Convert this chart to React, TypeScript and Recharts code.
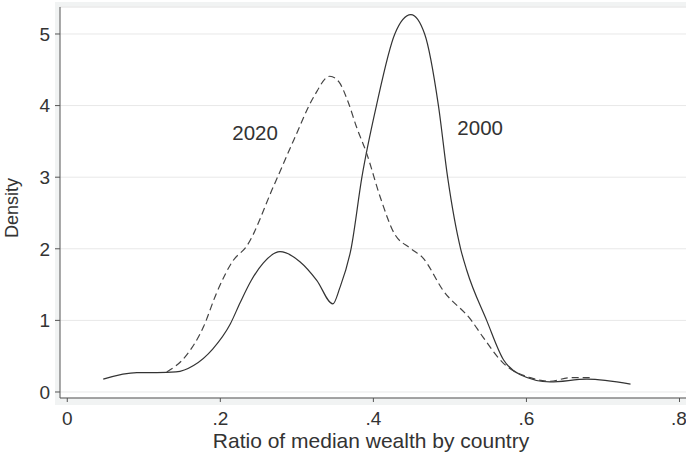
import React from 'react';
import {
  LineChart, Line, XAxis, YAxis, CartesianGrid, ReferenceDot, ReferenceLine,
} from 'recharts';

// kernel density of ratio, year 2000 (solid)
const x2000 = [0.047, 0.091, 0.117, 0.142, 0.165, 0.19, 0.213, 0.226, 0.24, 0.256, 0.278, 0.304, 0.326, 0.347, 0.356, 0.371, 0.385, 0.404, 0.428, 0.449, 0.467, 0.485, 0.497, 0.514, 0.522, 0.548, 0.57, 0.592, 0.631, 0.679, 0.736];
const d2000 = [0.18, 0.27, 0.27, 0.28, 0.37, 0.6, 0.95, 1.25, 1.55, 1.8, 1.96, 1.82, 1.56, 1.23, 1.45, 2.01, 3.0, 4.0, 5.0, 5.27, 5.0, 4.0, 3.0, 2.0, 1.7, 1.0, 0.45, 0.24, 0.14, 0.18, 0.11];

// year 2020 (dashed)
const x2020 = [0.13, 0.154, 0.178, 0.195, 0.217, 0.234, 0.269, 0.296, 0.322, 0.343, 0.355, 0.367, 0.378, 0.391, 0.409, 0.427, 0.448, 0.465, 0.491, 0.528, 0.543, 0.57, 0.605, 0.631, 0.657, 0.683];
const d2020 = [0.28, 0.49, 0.91, 1.38, 1.84, 2.03, 2.86, 3.52, 4.12, 4.41, 4.33, 4.05, 3.7, 3.34, 2.72, 2.22, 2.01, 1.87, 1.42, 1.0, 0.77, 0.4, 0.2, 0.15, 0.2, 0.2];

const xTicks = [0, 0.2, 0.4, 0.6, 0.8];
const yTicks = [0, 1, 2, 3, 4, 5];
const xDomain = [-0.0095, 0.8085];
const yDomain = [-0.084, 5.377];

const seriesLabels = [
  { name: '2020', x: 0.2454, y: 3.617 },
  { name: '2000', x: 0.5395, y: 3.687 },
];

const FONT = '"Liberation Sans", Arial, Helvetica, sans-serif';
const INK = '#333';

const data2000 = x2000.map((x, i) => ({ x, y: d2000[i] }));
const data2020 = x2020.map((x, i) => ({ x, y: d2020[i] }));

const fmt = (v: number) => (v === 0 ? '0' : String(v).replace(/^0/, ''));

export default function App() {
  return (
    <div style={{ position: 'absolute', left: 0, top: 0, width: 686, height: 457, background: '#fff', fontFamily: FONT }}>
      {/* faint graph region behind the plot */}
      <div style={{ position: 'absolute', left: 55, top: 2, width: 631, height: 403, background: '#f1f3f3' }} />
      <div style={{ position: 'absolute', left: 0, top: 0 }}>
        <LineChart width={686} height={457} margin={{ top: 7, right: 0, bottom: 0, left: 0 }}>
          <CartesianGrid horizontal vertical={false} stroke="#e8e8e8" fill="#fff" />
          <ReferenceLine y={yDomain[1]} stroke="#ececec" />
          <XAxis
            type="number"
            dataKey="x"
            domain={xDomain}
            ticks={xTicks}
            tickFormatter={fmt}
            allowDataOverflow
            height={59}
            stroke="#555"
            tickSize={4}
            tickMargin={10}
            tick={{ fill: INK, fontSize: 19, fontFamily: FONT }}
            label={{
              content: () => (
                <text x={371} y={448} textAnchor="middle" fontSize={21} fill={INK} fontFamily={FONT}>
                  Ratio of median wealth by country
                </text>
              ),
            }}
          />
          <YAxis
            type="number"
            domain={yDomain}
            ticks={yTicks}
            allowDataOverflow
            width={60}
            stroke="#555"
            tickSize={5}
            tickMargin={5}
            tick={{ fill: INK, fontSize: 19, fontFamily: FONT }}
            label={{
              content: () => (
                <text x={18} y={208} transform="rotate(-90 18 208)" textAnchor="middle" fontSize={18} fill={INK} fontFamily={FONT}>
                  Density
                </text>
              ),
            }}
          />
          <Line data={data2000} dataKey="y" type="monotone" stroke="#333" strokeWidth={1.2} dot={false} isAnimationActive={false} />
          <Line data={data2020} dataKey="y" type="monotone" stroke="#444" strokeWidth={1.2} strokeDasharray="7 4" dot={false} isAnimationActive={false} />
          {seriesLabels.map((s) => (
            <ReferenceDot
              key={s.name}
              x={s.x}
              y={s.y}
              r={0}
              fill="none"
              stroke="none"
              label={{ value: s.name, position: 'center', fontSize: 20.5, fill: INK, fontFamily: FONT }}
            />
          ))}
        </LineChart>
      </div>
    </div>
  );
}
